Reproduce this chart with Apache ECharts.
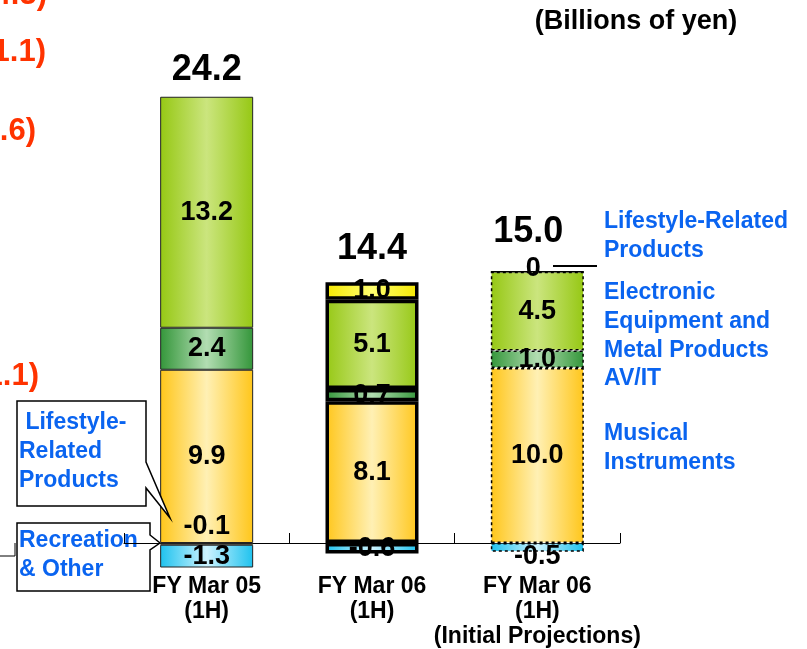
<!DOCTYPE html>
<html>
<head>
<meta charset="utf-8">
<script src="https://cdn.jsdelivr.net/npm/echarts@6/dist/echarts.min.js"></script>
<style>
html, body { margin: 0; padding: 0; background: #fff; }
#main { width: 807px; height: 649px; }
</style>
</head>
<body>
<div id="main"></div>
<script>
// values in billions of yen, bottom of stack first
var categories = ['FY Mar 05\n(1H)', 'FY Mar 06\n(1H)', 'FY Mar 06\n(1H)\n(Initial Projections)'];
var musical = [9.9, 8.1, 10.0];
var avit = [2.4, 0.7, 1.0];
var electronic = [13.2, 5.1, 4.5];
var lifestyle = [-0.1, 1.0, 0];
var recreation = [-1.3, -0.6, -0.5];
var totals = [24.2, 14.4, 15.0];

var FONT = "'Liberation Sans', Arial, sans-serif";

function grad(edge, mid) {
    return {
        type: 'linear', x: 0, y: 0, x2: 1, y2: 0,
        colorStops: [
            { offset: 0, color: edge },
            { offset: 0.5, color: mid },
            { offset: 1, color: edge }
        ]
    };
}

var stackData = [musical, avit, electronic, lifestyle, recreation];
var names = ['Musical Instruments', 'AV/IT', 'Electronic Equipment and Metal Products',
    'Lifestyle-Related Products', 'Recreation & Other'];
var fills = [
    grad('#FFC61A', '#FFF0B4'),
    grad('#34963A', '#B2DDB2'),
    grad('#96C814', '#CBE57E'),
    grad('#F5E800', '#FFFF70'),
    grad('#1EC2EE', '#CDF3FF')
];
// border per bar: actual, actual (bold), projection (dashed)
var barBorder = [
    { borderColor: '#222', borderWidth: 1 },
    { borderColor: '#000', borderWidth: 3.5 },
    { borderColor: '#000', borderWidth: 1.5, borderType: [3, 3] }
];
var labelOffsets = { '3-0': [0, -17], '4-2': [0, 9] };

var series = stackData.map(function(vals, s) {
    return {
        name: names[s],
        type: 'bar',
        stack: 'total',
        barWidth: 93,
        clip: false,
        emphasis: { disabled: true },
        label: {
            show: true,
            position: 'inside',
            color: '#000',
            fontFamily: FONT,
            fontWeight: 'bold',
            fontSize: 27,
            formatter: function(p) { return p.value.toFixed(1); }
        },
        data: vals.map(function(v, c) {
            return {
                value: v,
                itemStyle: Object.assign({ color: fills[s] }, barBorder[c]),
                label: { show: v !== 0, offset: labelOffsets[s + '-' + c] || [0, 0] }
            };
        })
    };
});

// top of positive stack, used to hang total labels
var posTop = categories.map(function(c, i) {
    return stackData.reduce(function(sum, arr) { return sum + (arr[i] > 0 ? arr[i] : 0); }, 0);
});
var totalOffsets = [[0, -27], [0, -33], [-9, -40]];

series.push({
    type: 'scatter',
    symbolSize: 1,
    itemStyle: { color: 'rgba(0,0,0,0)', opacity: 1 },
    silent: true,
    z: 5,
    label: {
        show: true, position: 'inside', color: '#000',
        fontFamily: FONT, fontWeight: 'bold', fontSize: 36,
        formatter: function(p) { return totals[p.dataIndex].toFixed(1); }
    },
    data: posTop.map(function(v, i) {
        return { value: [i, v], label: { offset: totalOffsets[i] } };
    })
});

// zero-valued lifestyle items get their "0" at the top of the stack
series.push({
    type: 'scatter',
    symbolSize: 1,
    itemStyle: { color: 'rgba(0,0,0,0)', opacity: 1 },
    silent: true,
    z: 5,
    label: {
        show: true, position: 'inside', color: '#000', offset: [-4, -3],
        fontFamily: FONT, fontWeight: 'bold', fontSize: 27,
        formatter: '0'
    },
    data: posTop.map(function(v, i) { return [i, v]; }).filter(function(d, i) { return lifestyle[i] === 0; })
});

var blue = '#0A64F0';
var red = '#FF3300';
function txt(x, y, text, size, color, align) {
    return {
        type: 'text', x: x, y: y,
        style: {
            text: text, fill: color, align: align || 'left', verticalAlign: 'middle',
            font: 'bold ' + size + 'px ' + FONT
        }
    };
}
function block(x, top, text) {
    return {
        type: 'text', x: x, y: top, z: 10,
        style: {
            text: text, fill: blue, align: 'left', verticalAlign: 'top',
            font: 'bold 23px ' + FONT, lineHeight: 29
        }
    };
}

var graphics = [
    // cut-off figures from the neighbouring panel
    txt(47, -5, '(14.3)', 31, red, 'right'),
    txt(46, 52, '(11.1)', 31, red, 'right'),
    txt(36, 131, '(10.6)', 31, red, 'right'),
    txt(39, 376, '(11.1)', 31, red, 'right'),
    txt(636, 22, '(Billions of yen)', 27, '#000', 'center'),
    // legend on the right
    block(604, 207.5, 'Lifestyle-Related\nProducts'),
    block(604, 278.5, 'Electronic\nEquipment and\nMetal Products'),
    block(604, 364.5, 'AV/IT'),
    block(604, 419.5, 'Musical\nInstruments'),
    { type: 'line', z: 10, shape: { x1: 553, y1: 266, x2: 597, y2: 266 }, style: { stroke: '#000', lineWidth: 2 } },
    // callouts on the left
    { type: 'polyline', z: -2, shape: { points: [[0, 556], [15, 556], [15, 543]] }, style: { stroke: '#000', lineWidth: 1, fill: null } },
    {
        type: 'polygon', z: 10,
        shape: { points: [[17, 401], [146, 401], [146, 462], [170, 518], [146, 488], [146, 506], [17, 506]] },
        style: { fill: '#fff', stroke: '#000', lineWidth: 1.5 }
    },
    block(19, 408.5, ' Lifestyle-\nRelated\nProducts'),
    {
        type: 'polygon', z: -1,
        shape: { points: [[17, 523], [150, 523], [150, 535], [160, 543], [150, 550], [150, 591], [17, 591]] },
        style: { fill: '#fff', stroke: '#000', lineWidth: 1.5 }
    },
    Object.assign(block(19, 526.5, 'Recreation\n& Other'), { z: -1 })
];

var option = {
    backgroundColor: '#fff',
    animation: false,
    // grid bottom sits on the zero line; negative segments hang below it unclipped
    grid: { left: 124, right: 187, top: 18, bottom: 106, outerBoundsMode: 'none' },
    xAxis: {
        type: 'category',
        data: categories,
        axisLine: { lineStyle: { color: '#000', width: 1 } },
        axisTick: { show: true, inside: true, length: 10, interval: 0, lineStyle: { color: '#000' } },
        axisLabel: {
            show: true, interval: 0, hideOverlap: false,
            margin: 31, color: '#000', fontFamily: FONT, fontWeight: 'bold',
            fontSize: 23, lineHeight: 25
        }
    },
    yAxis: { type: 'value', min: 0, max: 30, show: false },
    series: series,
    graphic: graphics
};

var myChart = echarts.init(document.getElementById('main'));
myChart.setOption(option);
</script>
</body>
</html>
